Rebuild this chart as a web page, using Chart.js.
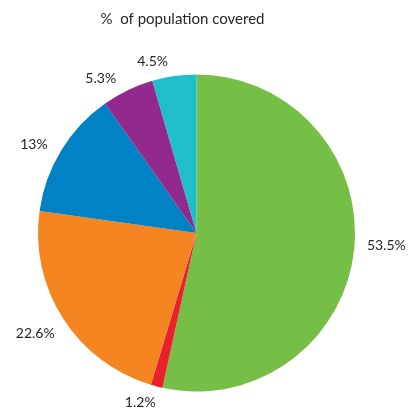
<!DOCTYPE html>
<html>
<head>
<meta charset="utf-8">
<title>% of population covered</title>
<script src="https://cdn.jsdelivr.net/npm/chart.js@4.4.1/dist/chart.umd.min.js"></script>
<style>
  html, body { margin: 0; padding: 0; background: #fff; }
  #wrap { width: 413px; height: 412px; }
</style>
</head>
<body>
<div id="wrap"><canvas id="pieChart" width="413" height="412"></canvas></div>
<script>
// --- data (clockwise from 12 o'clock) ---
const chartTitle = '%  of population covered';
const sliceLabels = ['53.5%', '1.2%', '22.6%', '13%', '5.3%', '4.5%'];
const sliceValues = [53.5, 1.2, 22.6, 13, 5.3, 4.5];
const sliceColors = ['#76bf46', '#e8212b', '#f58521', '#0082c4', '#92298d', '#20bdca'];

const FONT = 'Lato, "Open Sans", sans-serif';
const TEXT = '#262626';

// small hand nudges so labels sit where the original put them
const labelNudge = [[3, -6], [-10, 0], [-3, 6], [-7, 3], [-16, 4], [-18, 2]];

// outside labels + title, positioned from the arc geometry Chart.js computed
const outsideLabels = {
  id: 'outsideLabels',
  afterDraw(chart) {
    const { ctx } = chart;
    const arcs = chart.getDatasetMeta(0).data;
    ctx.save();
    ctx.fillStyle = TEXT;
    ctx.textAlign = 'center';
    ctx.textBaseline = 'middle';

    ctx.font = '15px ' + FONT;
    ctx.fillText(chartTitle, 182.5, 19);

    ctx.font = '14px ' + FONT;
    arcs.forEach((arc, i) => {
      const { x, y, startAngle, endAngle, outerRadius } = arc.getProps(['x', 'y', 'startAngle', 'endAngle', 'outerRadius'], true);
      const mid = (startAngle + endAngle) / 2;
      const cx = Math.cos(mid), cy = Math.sin(mid);
      const txt = sliceLabels[i];
      const w = ctx.measureText(txt).width;
      const r = outerRadius + 10;
      const px = x + cx * r + cx * w / 2 + labelNudge[i][0];
      const py = y + cy * r + cy * 7 + labelNudge[i][1];
      ctx.fillText(txt, px, py);
    });
    ctx.restore();
  }
};

new Chart(document.getElementById('pieChart'), {
  type: 'pie',
  data: {
    labels: sliceLabels,
    datasets: [{
      data: sliceValues,
      backgroundColor: sliceColors,
      borderWidth: 0,
      hoverOffset: 0
    }]
  },
  options: {
    responsive: false,
    animation: false,
    layout: { padding: { top: 74.5, left: 38, right: 58, bottom: 20.5 } },
    plugins: {
      legend: { display: false },
      title: { display: false },
      tooltip: { enabled: false }
    }
  },
  plugins: [outsideLabels]
});
</script>
</body>
</html>
